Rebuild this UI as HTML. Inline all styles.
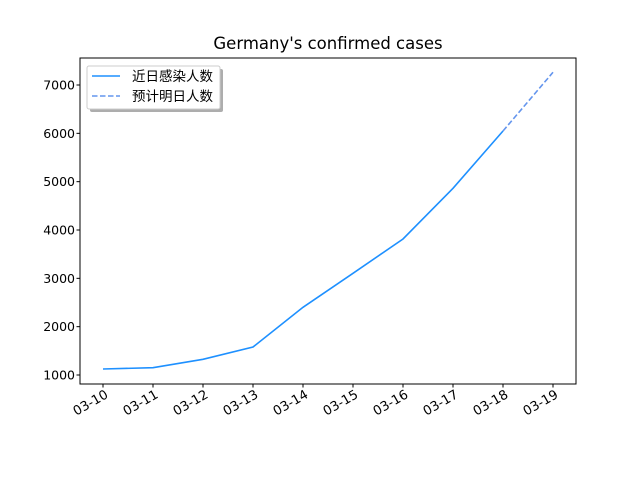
<!DOCTYPE html>
<html><head><meta charset="utf-8"><style>
body{margin:0;background:#fff;}
svg text{font-family:"DejaVu Sans","Liberation Sans","Noto Sans CJK SC",sans-serif;}
</style></head><body>
<svg id="chart" width="640" height="480" xmlns="http://www.w3.org/2000/svg">
<rect width="640" height="480" fill="#fff"/>
<text x="328" y="49" text-anchor="middle" font-size="16.5" fill="#000">Germany's confirmed cases</text>
<g id="plot"></g>
<rect x="80" y="58" width="496" height="326" fill="none" stroke="#000" stroke-width="1"/>
<g>
<rect x="90" y="69" width="133" height="43" rx="2" fill="#999" opacity="0.8"/>
<rect x="87" y="66" width="133" height="43" rx="2" fill="#fff" stroke="#ccc"/>
<line x1="92" y1="76" x2="120" y2="76" stroke="#1e90ff" stroke-width="1.5"/>
<text x="132" y="81" font-size="13.5" font-family="Noto Sans CJK SC, sans-serif">近日感染人数</text>
<line x1="92" y1="96" x2="120" y2="96" stroke="#6495ed" stroke-width="1.5" stroke-dasharray="5.5,2.5"/>
<text x="132" y="101" font-size="13.5" font-family="Noto Sans CJK SC, sans-serif">预计明日人数</text>
</g>
</svg>
<script>
const categories=["03-10","03-11","03-12","03-13","03-14","03-15","03-16","03-17","03-18","03-19"];
const actualValues=[1124,1151,1325,1579,2401,3104,3814,4863,6048];
const forecastValues=[6048,7263];
const yTicks=[1000,2000,3000,4000,5000,6000,7000];
const NS="http://www.w3.org/2000/svg";
const g=document.getElementById('plot');
function xs(i){return 103+i*50;}
function ys(v){return 375-(v-1000)*0.048333;}
function mk(t,a){const e=document.createElementNS(NS,t);for(const k in a)e.setAttribute(k,a[k]);g.appendChild(e);return e;}
yTicks.forEach(v=>{
 const y=ys(v);
 const l=mk('line',{x1:76.5,x2:80,y1:y,y2:y,stroke:'#000'});
 
 
 const t=mk('text',{x:75,y:y+4.5,'text-anchor':'end','font-size':'12.5'});
 t.textContent=v;
 
 
});
categories.forEach((c,i)=>{
 const x=xs(i);
 const l=mk('line',{x1:x,x2:x,y1:384,y2:387.5,stroke:'#000'});
 
 
 const t=mk('text',{x:x+6,y:397,'text-anchor':'end','font-size':'13',transform:`rotate(-30 ${x+6} 397)`});
 t.textContent=c;
 
 
});
const p1=mk('polyline',{points:actualValues.map((v,i)=>xs(i)+','+ys(v)).join(' '),fill:'none',stroke:'#1e90ff','stroke-width':1.6});


const off=actualValues.length-1;
const p2=mk('polyline',{points:forecastValues.map((v,i)=>xs(i+off)+','+ys(v)).join(' '),fill:'none',stroke:'#6495ed','stroke-width':1.6,'stroke-dasharray':'5.5,2.5'});


</script>
</body></html>
